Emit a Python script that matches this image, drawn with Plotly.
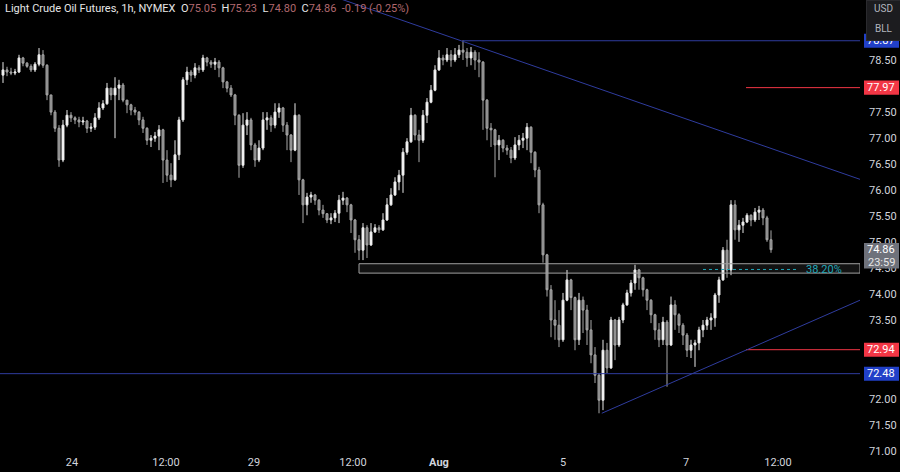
import plotly.graph_objects as go

# ---------------- data ----------------
first_open = 78.21
closes = [
    78.31, 78.27, 78.25, 78.27, 78.54, 78.44, 78.38, 78.31, 78.42, 78.60,
    78.40, 77.83, 77.50, 77.19, 76.58, 77.25, 77.44, 77.39, 77.35, 77.31,
    77.33, 77.19, 77.21, 77.39, 77.58, 77.66, 77.96, 77.83, 77.96, 78.02,
    77.73, 77.64, 77.54, 77.50, 77.35, 77.19, 76.96, 77.00, 77.04, 77.16,
    76.58, 76.29, 76.20, 76.68, 77.35, 78.12, 78.27, 78.21, 78.35, 78.31,
    78.54, 78.46, 78.42, 78.46, 78.35, 78.08, 77.96, 77.83, 77.44, 76.48,
    77.25, 77.35, 76.87, 76.58, 76.81, 77.35, 77.39, 77.25, 77.50, 77.58,
    77.25, 77.06, 76.77, 77.44, 76.20, 75.72, 75.87, 75.91, 75.81, 75.62,
    75.55, 75.43, 75.47, 75.56, 75.81, 75.85, 75.72, 75.43, 75.05, 74.85,
    75.28, 74.95, 75.20, 75.28, 75.24, 75.43, 75.72, 75.91, 76.16, 76.29,
    76.73, 76.93, 77.44, 77.06, 76.96, 77.44, 77.69, 77.92, 78.31, 78.54,
    78.50, 78.60, 78.50, 78.60, 78.69, 78.65, 78.54, 78.65, 78.50, 78.46,
    77.73, 77.19, 77.16, 76.87, 76.96, 76.81, 76.77, 76.62, 76.87, 76.96,
    77.00, 77.21, 76.73, 76.39, 75.72, 74.76, 74.09, 73.51, 73.41, 73.13,
    73.89, 74.28, 73.94, 73.13, 73.89, 73.70, 73.32, 72.84, 72.45, 71.97,
    72.93, 72.59, 73.51, 73.03, 73.51, 73.80, 74.03, 74.22, 74.47, 74.32,
    74.09, 73.89, 73.61, 73.32, 73.13, 73.47, 73.03, 73.80, 73.61, 73.41,
    73.22, 72.93, 73.03, 73.07, 73.32, 73.41, 73.51, 73.55, 73.99, 74.28,
    74.85, 74.47, 75.72, 75.24, 75.33, 75.39, 75.52, 75.43, 75.58, 75.62,
    75.47, 75.05, 74.86]
highs = [
    78.46, 78.37, 78.35, 78.33, 78.60, 78.56, 78.46, 78.42, 78.46, 78.73,
    78.69, 78.42, 77.83, 77.54, 77.25, 77.35, 77.54, 77.50, 77.42, 77.41,
    77.41, 77.35, 77.29, 77.48, 77.69, 77.73, 78.06, 77.96, 78.17, 78.12,
    78.06, 77.73, 77.66, 77.60, 77.52, 77.41, 77.21, 77.06, 77.12, 77.25,
    77.18, 76.77, 76.52, 76.96, 77.41, 78.17, 78.37, 78.31, 78.44, 78.40,
    78.60, 78.56, 78.50, 78.54, 78.50, 78.37, 78.10, 78.02, 77.85, 77.46,
    77.48, 77.50, 77.39, 76.91, 76.96, 77.50, 77.50, 77.44, 77.67, 77.67,
    77.60, 77.31, 77.08, 77.67, 77.46, 76.22, 75.95, 75.97, 75.93, 75.83,
    75.72, 75.56, 75.56, 75.62, 75.91, 75.97, 75.87, 75.74, 75.45, 75.14,
    75.37, 75.33, 75.37, 75.35, 75.33, 75.56, 75.85, 76.04, 76.25, 76.39,
    76.81, 77.00, 77.58, 77.46, 77.16, 77.54, 77.77, 78.02, 78.40, 78.69,
    78.60, 78.73, 78.69, 78.73, 78.79, 78.88, 78.73, 78.75, 78.69, 78.65,
    78.48, 77.75, 77.29, 77.18, 77.06, 76.98, 76.87, 76.83, 77.02, 77.06,
    77.10, 77.29, 77.23, 76.75, 76.45, 75.76, 74.78, 74.18, 73.89, 73.70,
    74.03, 74.47, 74.30, 73.96, 74.03, 73.96, 73.80, 73.51, 72.99, 72.49,
    73.13, 73.07, 73.57, 73.53, 73.57, 73.84, 74.09, 74.28, 74.57, 74.49,
    74.34, 74.11, 73.91, 73.63, 73.45, 73.57, 73.51, 73.96, 73.89, 73.64,
    73.45, 73.26, 73.13, 73.13, 73.38, 73.51, 73.57, 73.64, 74.03, 74.34,
    74.91, 75.05, 75.81, 75.81, 75.43, 75.47, 75.56, 75.54, 75.66, 75.70,
    75.66, 75.51, 75.23]
lows = [
    78.06, 78.19, 78.21, 78.21, 78.25, 78.38, 78.35, 78.27, 78.27, 78.38,
    78.35, 77.73, 77.44, 77.12, 76.45, 76.54, 77.21, 77.31, 77.27, 77.21,
    77.25, 77.10, 77.12, 77.16, 77.35, 77.54, 77.64, 77.73, 77.00, 77.73,
    77.69, 77.48, 77.44, 77.44, 77.25, 77.10, 76.87, 76.83, 76.93, 76.77,
    76.14, 76.16, 76.06, 76.18, 76.58, 77.31, 78.02, 78.08, 78.15, 78.25,
    78.27, 78.38, 78.35, 78.31, 78.17, 77.96, 77.88, 77.79, 77.25, 76.24,
    76.43, 77.06, 76.77, 76.45, 76.54, 76.77, 77.16, 77.12, 77.19, 77.39,
    77.12, 76.77, 76.54, 76.75, 75.91, 75.37, 75.52, 75.76, 75.72, 75.52,
    75.47, 75.37, 75.35, 75.39, 75.37, 75.72, 75.58, 75.18, 74.80, 74.66,
    74.66, 74.70, 74.93, 75.18, 75.18, 75.22, 75.41, 75.70, 75.89, 76.00,
    75.95, 76.68, 76.91, 76.96, 76.54, 76.91, 77.29, 77.67, 77.90, 78.29,
    78.40, 78.46, 78.37, 78.46, 78.54, 78.50, 78.37, 78.40, 78.31, 78.17,
    77.16, 76.96, 76.83, 76.25, 76.58, 76.73, 76.68, 76.52, 76.58, 76.77,
    76.81, 76.77, 76.52, 76.25, 75.56, 74.61, 73.96, 73.18, 73.13, 72.99,
    73.09, 73.87, 73.70, 72.93, 73.03, 73.26, 73.03, 72.68, 72.30, 71.72,
    71.78, 72.49, 72.57, 72.74, 72.99, 73.45, 73.78, 73.96, 74.09, 74.09,
    73.96, 73.70, 73.45, 73.13, 72.99, 73.03, 72.23, 73.01, 73.32, 73.26,
    73.03, 72.80, 72.78, 72.61, 72.93, 73.18, 73.32, 73.32, 73.38, 73.84,
    74.26, 74.32, 74.37, 75.05, 75.01, 75.18, 75.37, 75.31, 75.39, 75.43,
    75.33, 75.01, 74.80]
opens = [first_open] + closes[:-1]
bars = list(range(len(closes)))

# x-axis tick labels (positions in bar index)
tick_pos = [17.25, 40.75, 62.75, 87.5, 109, 140, 170.75, 193.75]
tick_text = ["24", "12:00", "29", "12:00", "<b>Aug</b>", "5", "7", "12:00"]
# price-scale labels visible in the reference (others hidden behind level labels)
price_ticks = [71.0, 71.5, 72.0, 73.5, 74.0, 74.5, 75.0, 75.5, 76.0, 76.5, 77.0, 77.5, 78.5]

# drawn levels / trendlines
x_min, x_max = -0.75, 214.25
y_min, y_max = 70.938, 79.652
resistance_top = 78.87
resistance_start = 115
support_level = 72.48
red_levels = [77.97, 72.94]
red_start = 185.75
zone_low, zone_high, zone_start = 74.41, 74.59, 89
fib_level, fib_x = 74.48, [175, 198.5]
fib_label_x = 200.2
down_trend_x, down_trend_y = [80, 214.25], [79.79, 76.21]
up_trend_x, up_trend_y = [149.7, 214.25], [71.72, 73.89]

last = dict(o=75.05, h=75.23, l=74.80, c=74.86, chg=-0.19, pct=-0.25)

BLUE = "#2f3c9e"
RED = "#f23645"
TXT = "#d1d4dc"
TEAL = "#22a7b8"

fig = go.Figure()

# zone rectangle
fig.add_trace(go.Scatter(
    x=[zone_start, x_max, x_max, zone_start, zone_start],
    y=[zone_low, zone_low, zone_high, zone_high, zone_low],
    mode="lines", fill="toself", fillcolor="rgba(255,255,255,0.07)",
    line=dict(color="#a0a0a0", width=1), hoverinfo="skip", showlegend=False))

# candles
fig.add_trace(go.Candlestick(
    x=bars, open=opens, high=highs, low=lows, close=closes,
    increasing=dict(line=dict(color="#e8e8e8", width=1), fillcolor="#ffffff"),
    decreasing=dict(line=dict(color="#a8a8a8", width=1), fillcolor="#7c7c7c"),
    whiskerwidth=0, hoverinfo="skip", showlegend=False))

def hline(x0, x1, y, color, width=1, dash=None):
    fig.add_trace(go.Scatter(x=[x0, x1], y=[y, y], mode="lines",
                             line=dict(color=color, width=width, dash=dash),
                             hoverinfo="skip", showlegend=False))

hline(resistance_start, x_max, resistance_top, BLUE)
hline(x_min, x_max, support_level, BLUE)
for lv in red_levels:
    hline(red_start, x_max, lv, RED)
hline(fib_x[0], fib_x[1], fib_level, TEAL, 1, "dot")

fig.add_trace(go.Scatter(x=down_trend_x, y=down_trend_y, mode="lines",
                         line=dict(color=BLUE, width=1), hoverinfo="skip", showlegend=False))
fig.add_trace(go.Scatter(x=up_trend_x, y=up_trend_y, mode="lines",
                         line=dict(color=BLUE, width=1), hoverinfo="skip", showlegend=False))

PLOT_W = 860
def px_to_paper(px):
    return px / PLOT_W

shapes = []
annotations = []
half = 0.135

def price_label(price, text, bg):
    shapes.append(dict(type="rect", xref="paper", yref="y",
                       x0=px_to_paper(864), x1=px_to_paper(899),
                       y0=price - half, y1=price + half,
                       fillcolor=bg, line=dict(width=0), layer="above"))
    annotations.append(dict(xref="paper", yref="y", x=px_to_paper(881.5), y=price,
                            text=text, showarrow=False, xanchor="center", yanchor="middle",
                            font=dict(color="#ffffff", size=11, family="Roboto")))

price_label(resistance_top, f"{resistance_top:.2f}", "#2140c8")
price_label(red_levels[0], f"{red_levels[0]:.2f}", RED)
price_label(red_levels[1], f"{red_levels[1]:.2f}", RED)
price_label(support_level, f"{support_level:.2f}", "#2140c8")

# last price label (two lines)
shapes.append(dict(type="rect", xref="paper", yref="y",
                   x0=px_to_paper(864), x1=px_to_paper(899),
                   y0=last["c"] - 0.36, y1=last["c"] + 0.13,
                   fillcolor="#6f727b", line=dict(width=0), layer="above"))
annotations.append(dict(xref="paper", yref="y", x=px_to_paper(881.5), y=last["c"] + 0.01,
                        text=f"{last['c']:.2f}", showarrow=False, xanchor="center", yanchor="middle",
                        font=dict(color="#ffffff", size=11, family="Roboto")))
annotations.append(dict(xref="paper", yref="y", x=px_to_paper(881.5), y=last["c"] - 0.24,
                        text="23:59", showarrow=False, xanchor="center", yanchor="middle",
                        font=dict(color="#e6e6e6", size=11, family="Roboto")))

# USD / BLL box (annotation so it covers the top of the blue label)
annotations.append(dict(xref="paper", yref="paper", x=px_to_paper(866), y=1.0,
                        xanchor="left", yanchor="top", text=" ", showarrow=False,
                        width=33, height=39, bgcolor="#1c1c1f", bordercolor="#2a2a2e",
                        borderwidth=1, borderpad=0))
annotations.append(dict(xref="paper", yref="paper", x=px_to_paper(884), y=1 - 8 / 454,
                        text="USD", showarrow=False, xanchor="center", yanchor="middle",
                        font=dict(color="#b2b5be", size=10, family="Roboto")))
annotations.append(dict(xref="paper", yref="paper", x=px_to_paper(884), y=1 - 29 / 454,
                        text="BLL", showarrow=False, xanchor="center", yanchor="middle",
                        font=dict(color="#b2b5be", size=10, family="Roboto")))

# fib label
annotations.append(dict(xref="x", yref="y", x=fib_label_x, y=fib_level,
                        text="38.20%", showarrow=False, xanchor="left", yanchor="middle",
                        font=dict(color=TEAL, size=11, family="Roboto")))

# header
vcol = "#b0696f"
header = ("Light Crude Oil Futures, 1h, NYMEX&nbsp;&nbsp;"
          f"O<span style='color:{vcol}'>{last['o']:.2f}</span>&nbsp;&nbsp;"
          f"H<span style='color:{vcol}'>{last['h']:.2f}</span>&nbsp;&nbsp;"
          f"L<span style='color:{vcol}'>{last['l']:.2f}</span>&nbsp;&nbsp;"
          f"C<span style='color:{vcol}'>{last['c']:.2f}</span>&nbsp;&nbsp;"
          f"<span style='color:{vcol}'>{last['chg']:.2f} ({last['pct']:.2f}%)</span>")
annotations.append(dict(xref="paper", yref="paper", x=px_to_paper(3), y=1 - 8 / 454,
                        text=header, showarrow=False, xanchor="left", yanchor="middle",
                        font=dict(color="#e6e6e6", size=11, family="Roboto")))

fig.update_layout(
    width=900, height=472,
    margin=dict(l=0, r=40, t=0, b=18),
    paper_bgcolor="#000000", plot_bgcolor="#000000",
    shapes=shapes, annotations=annotations,
    showlegend=False,
    xaxis=dict(range=[x_min, x_max], tickvals=tick_pos, ticktext=tick_text,
               showgrid=False, zeroline=False, showline=False, ticks="",
               tickfont=dict(color=TXT, size=11, family="Roboto"),
               rangeslider=dict(visible=False), fixedrange=True),
    yaxis=dict(range=[y_min, y_max], side="right", tickvals=price_ticks,
               ticktext=[f"{v:.2f}" for v in price_ticks],
               showgrid=False, zeroline=False, showline=False, ticks="",
               ticklabelstandoff=8,
               tickfont=dict(color=TXT, size=11, family="Roboto"), fixedrange=True),
)

fig.write_html("out.html", config={"displayModeBar": False},
               post_script="document.body.style.margin='0';document.body.style.overflow='hidden';document.body.style.background='#000';")
